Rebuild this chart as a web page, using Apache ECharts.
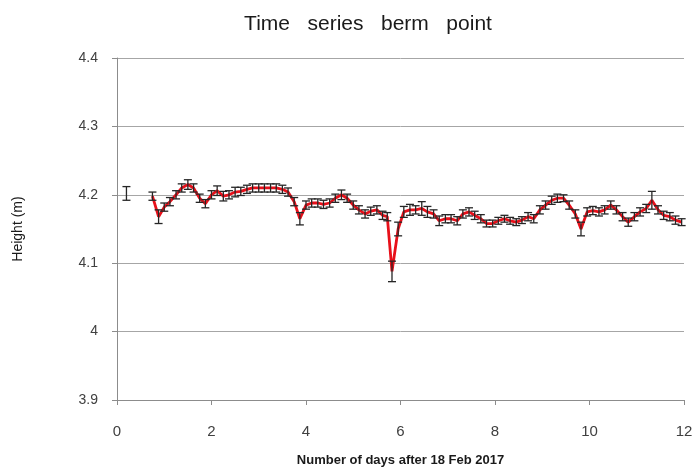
<!DOCTYPE html>
<html>
<head>
<meta charset="utf-8">
<script src="https://cdn.jsdelivr.net/npm/echarts@6/dist/echarts.min.js"></script>
<style>html,body{margin:0;padding:0;background:#fff;}#c{width:698px;height:470px;}</style>
</head>
<body>
<div id="c"></div>
<script>
// Data
const days = [0.75,0.88,1.0,1.12,1.25,1.37,1.5,1.62,1.75,1.87,2.0,2.12,2.25,2.37,2.5,2.62,2.75,2.87,3.0,3.12,3.25,3.37,3.5,3.62,3.75,3.87,4.0,4.12,4.25,4.37,4.5,4.62,4.75,4.87,5.0,5.12,5.25,5.37,5.5,5.62,5.72,5.82,5.95,6.07,6.2,6.32,6.45,6.57,6.7,6.82,6.95,7.07,7.2,7.32,7.45,7.57,7.7,7.82,7.95,8.07,8.2,8.32,8.45,8.57,8.7,8.82,8.95,9.07,9.2,9.32,9.45,9.57,9.7,9.82,9.95,10.07,10.2,10.32,10.45,10.57,10.7,10.82,10.95,11.07,11.2,11.32,11.45,11.57,11.7,11.82,11.95];
const heights = [4.198,4.168,4.182,4.19,4.2,4.21,4.215,4.21,4.195,4.187,4.2,4.206,4.198,4.2,4.204,4.205,4.208,4.21,4.21,4.21,4.21,4.21,4.208,4.204,4.19,4.165,4.185,4.188,4.188,4.186,4.188,4.195,4.2,4.195,4.185,4.178,4.172,4.176,4.178,4.17,4.168,4.088,4.15,4.175,4.178,4.178,4.18,4.175,4.172,4.162,4.165,4.165,4.162,4.172,4.175,4.17,4.165,4.158,4.158,4.162,4.165,4.162,4.16,4.163,4.168,4.165,4.178,4.185,4.192,4.195,4.195,4.185,4.172,4.15,4.175,4.177,4.175,4.178,4.185,4.178,4.168,4.16,4.168,4.175,4.18,4.192,4.178,4.17,4.168,4.163,4.16];
const errors = [0.006,0.01,0.006,0.006,0.006,0.006,0.007,0.006,0.006,0.006,0.006,0.007,0.007,0.006,0.007,0.006,0.006,0.006,0.006,0.006,0.006,0.006,0.006,0.006,0.006,0.009,0.006,0.006,0.006,0.006,0.006,0.006,0.007,0.006,0.006,0.006,0.006,0.006,0.006,0.006,0.006,0.015,0.01,0.008,0.008,0.006,0.01,0.008,0.006,0.007,0.006,0.006,0.006,0.006,0.006,0.006,0.006,0.005,0.005,0.005,0.005,0.005,0.005,0.005,0.006,0.006,0.006,0.006,0.006,0.006,0.005,0.006,0.006,0.01,0.006,0.006,0.006,0.006,0.006,0.006,0.006,0.006,0.006,0.006,0.006,0.013,0.006,0.006,0.006,0.006,0.005];
const firstDay = [0.2];
const firstHeight = [4.202];
const firstError = [0.01];
const yTicks = ['3.9','4','4.1','4.2','4.3','4.4'];

const lineData = days.map((d, i) => [d, heights[i]]);
const errData = days.map((d, i) => [d, heights[i] - errors[i], heights[i] + errors[i]])
  .concat(firstDay.map((d, i) => [d, firstHeight[i] - firstError[i], firstHeight[i] + firstError[i]]));

function renderErr(params, api) {
  const x = api.value(0);
  const lo = api.coord([x, api.value(1)]);
  const hi = api.coord([x, api.value(2)]);
  const w = 4;
  const style = { stroke: '#262626', lineWidth: 1.3 };
  return {
    type: 'group',
    children: [
      { type: 'line', shape: { x1: lo[0], y1: lo[1], x2: hi[0], y2: hi[1] }, style },
      { type: 'line', shape: { x1: lo[0] - w, y1: lo[1], x2: lo[0] + w, y2: lo[1] }, style },
      { type: 'line', shape: { x1: hi[0] - w, y1: hi[1], x2: hi[0] + w, y2: hi[1] }, style }
    ]
  };
}

const chart = echarts.init(document.getElementById('c'), null, { renderer: 'canvas' });
chart.setOption({
  backgroundColor: '#fff',
  animation: false,
  title: {
    text: 'Time   series   berm   point',
    left: 363, top: 9, textAlign: 'center',
    textStyle: { fontFamily: 'Liberation Sans, Arial', fontSize: 21, fontWeight: 'normal', color: '#1a1a1a' }
  },
  grid: { left: 117, right: 14, top: 58, bottom: 70, containLabel: false, outerBoundsMode: 'none' },
  xAxis: {
    type: 'value', min: 0, max: 12, interval: 2,
    name: 'Number of days after 18 Feb 2017', nameLocation: 'middle', nameGap: 54,
    nameTextStyle: { fontFamily: 'Liberation Sans, Arial', fontSize: 13, fontWeight: 'bold', color: '#1a1a1a' },
    axisLine: { lineStyle: { color: '#8c8c8c', width: 1 } },
    axisTick: { show: true, length: 5, lineStyle: { color: '#8c8c8c' } },
    axisLabel: { margin: 24, fontFamily: 'Liberation Sans, Arial', fontSize: 15, color: '#404040' },
    splitLine: { show: false }
  },
  yAxis: {
    type: 'value', min: 3.9, max: 4.4, interval: 0.1,
    name: 'Height (m)', nameLocation: 'middle', nameGap: 92,
    nameTextStyle: { fontFamily: 'Liberation Sans, Arial', fontSize: 14, color: '#1a1a1a' },
    axisLine: { show: true, lineStyle: { color: '#8c8c8c', width: 1 } },
    axisTick: { show: true, length: 5, lineStyle: { color: '#8c8c8c' } },
    axisLabel: {
      margin: 19, fontFamily: 'Liberation Sans, Arial', fontSize: 14, color: '#404040',
      formatter: v => yTicks[Math.round((v - 3.9) * 10)]
    },
    splitLine: { show: true, lineStyle: { color: '#a6a6a6', width: 1 } }
  },
  series: [
    {
      type: 'line', data: lineData, symbol: 'none', z: 2,
      lineStyle: { color: '#e8101a', width: 2.8 }
    },
    {
      type: 'custom', data: errData, renderItem: renderErr, z: 3,
      encode: { x: 0, y: [1, 2] }
    }
  ]
});
</script>
</body>
</html>
